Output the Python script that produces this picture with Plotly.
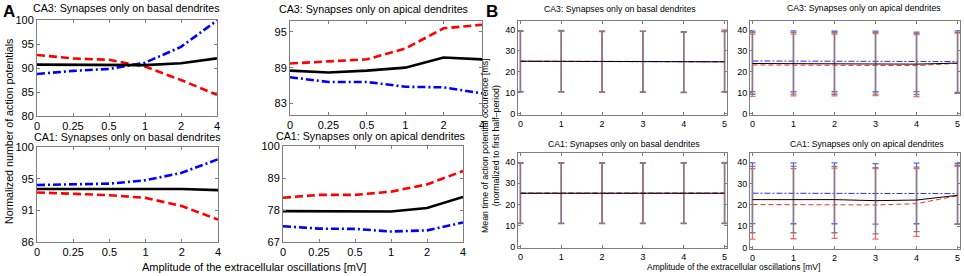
import plotly.graph_objects as go

W, H = 964, 276

# ---------------- Panel A data ----------------
amp_labels = ['0', '0.25', '0.5', '1', '2', '4']
amp_pos = [0, 1, 2, 3, 4, 5]

ca3_basal_solid = [90.7, 90.7, 90.7, 90.6, 91.0, 92.0]
ca3_basal_dash = [92.7, 92.0, 91.7, 90.3, 87.5, 84.4]
ca3_basal_dashdot = [88.75, 89.4, 89.8, 91.1, 94.4, 99.9]

ca3_apical_solid = [88.5, 88.2, 88.5, 89.0, 90.7, 90.4]
ca3_apical_dash = [89.7, 90.0, 90.4, 92.2, 95.6, 96.2]
ca3_apical_dashdot = [87.4, 86.6, 86.6, 85.8, 85.7, 84.7]

ca1_basal_solid = [93.8, 93.8, 93.8, 93.8, 93.8, 93.65]
ca1_basal_dash = [93.3, 93.1, 92.9, 92.5, 91.3, 89.3]
ca1_basal_dashdot = [94.4, 94.5, 94.6, 95.1, 96.2, 98.2]

ca1_apical_solid = [77.6, 77.5, 77.4, 77.5, 78.7, 82.5]
ca1_apical_dash = [82.2, 83.2, 83.2, 84.3, 86.8, 91.4]
ca1_apical_dashdot = [72.4, 71.6, 71.5, 70.6, 71.0, 73.7]

# ---------------- Panel B data ----------------
b_amp = [0, 1, 2, 3, 4, 5]

b_ca3_basal_solid_mean = [25.1, 25.0, 24.9, 24.8, 24.8, 24.8]
b_ca3_basal_solid_hi = [39.5, 39.6, 39.3, 39.3, 39.0, 39.3]
b_ca3_basal_solid_lo = [10.5, 10.5, 10.3, 10.3, 10.2, 10.5]
b_ca3_basal_dash_mean = [25.1, 25.1, 24.9, 24.8, 24.8, 24.9]
b_ca3_basal_dash_hi = [39.7, 39.8, 39.6, 39.5, 39.2, 40.0]
b_ca3_basal_dash_lo = [10.6, 10.6, 10.3, 10.4, 10.3, 10.3]
b_ca3_basal_dashdot_mean = [25.0, 25.0, 24.9, 24.8, 24.7, 24.8]
b_ca3_basal_dashdot_hi = [39.3, 39.5, 39.2, 39.3, 39.0, 39.2]
b_ca3_basal_dashdot_lo = [10.4, 10.5, 10.3, 10.2, 10.1, 10.6]

b_ca3_apical_solid_mean = [24.0, 24.0, 24.0, 24.0, 23.7, 24.2]
b_ca3_apical_solid_hi = [38.9, 38.9, 38.8, 38.9, 38.4, 38.9]
b_ca3_apical_solid_lo = [9.3, 9.4, 9.3, 9.4, 9.2, 9.9]
b_ca3_apical_dash_mean = [23.3, 23.2, 23.3, 23.2, 23.0, 24.1]
b_ca3_apical_dash_hi = [38.0, 38.0, 38.1, 38.3, 37.8, 38.5]
b_ca3_apical_dash_lo = [8.3, 8.5, 8.5, 8.7, 8.2, 9.7]
b_ca3_apical_dashdot_mean = [25.2, 25.2, 25.1, 25.1, 25.0, 24.9]
b_ca3_apical_dashdot_hi = [39.5, 39.6, 39.4, 39.5, 39.0, 39.6]
b_ca3_apical_dashdot_lo = [10.6, 10.5, 10.5, 10.5, 10.6, 10.2]

b_ca1_basal_solid_mean = [25.3, 25.3, 25.3, 25.3, 25.3, 25.3]
b_ca1_basal_solid_hi = [39.6, 39.6, 39.6, 39.6, 39.6, 39.6]
b_ca1_basal_solid_lo = [11.0, 11.0, 11.0, 11.0, 11.0, 11.0]
b_ca1_basal_dash_mean = [25.4, 25.4, 25.4, 25.4, 25.4, 25.4]
b_ca1_basal_dash_hi = [39.7, 39.7, 39.7, 39.7, 39.7, 39.8]
b_ca1_basal_dash_lo = [11.1, 11.1, 11.1, 11.1, 11.1, 11.1]
b_ca1_basal_dashdot_mean = [25.2, 25.2, 25.2, 25.2, 25.2, 25.2]
b_ca1_basal_dashdot_hi = [39.5, 39.5, 39.5, 39.5, 39.5, 39.5]
b_ca1_basal_dashdot_lo = [10.9, 10.9, 10.9, 10.9, 10.9, 10.9]

b_ca1_apical_solid_mean = [22.5, 22.5, 22.5, 22.0, 22.3, 24.5]
b_ca1_apical_solid_hi = [38.0, 38.0, 38.0, 37.5, 37.7, 38.5]
b_ca1_apical_solid_lo = [7.0, 7.0, 7.0, 6.5, 7.5, 11.0]
b_ca1_apical_dash_mean = [20.2, 20.2, 20.3, 20.0, 20.6, 24.3]
b_ca1_apical_dash_hi = [37.0, 37.0, 37.2, 37.0, 37.0, 38.0]
b_ca1_apical_dash_lo = [4.0, 4.2, 4.4, 4.0, 5.3, 11.0]
b_ca1_apical_dashdot_mean = [25.5, 25.5, 25.5, 25.4, 25.5, 25.3]
b_ca1_apical_dashdot_hi = [39.7, 39.7, 39.7, 39.3, 39.6, 39.4]
b_ca1_apical_dashdot_lo = [11.3, 11.2, 11.2, 11.0, 11.2, 11.0]

titles = {
    'ca3_basal': 'CA3: Synapses only on basal dendrites',
    'ca3_apical': 'CA3: Synapses only on apical dendrites',
    'ca1_basal': 'CA1: Synapses only on basal dendrites',
    'ca1_apical': 'CA1: Synapses only on apical dendrites',
}
xlabel = 'Amplitude of the extracellular oscillations [mV]'
ylabel_a = 'Normalized number of action potentials'
ylabel_b1 = 'Mean time of action potential occurence [ms]'
ylabel_b2 = '(normalized to first half\u2013period)'

FONT = 'Liberation Sans, Arial, sans-serif'


def dx(l, r):
    return [l / W, r / W]


def dy(t, b):
    return [1 - b / H, 1 - t / H]


def px(x):
    return x / W


def py(y):
    return 1 - y / H


fig = go.Figure()
layout = dict(
    width=W, height=H, margin=dict(l=0, r=0, t=0, b=0, pad=0, autoexpand=False),
    paper_bgcolor='white', plot_bgcolor='white', showlegend=False,
    font=dict(family=FONT, color='black'),
)

frame = dict(showline=True, linecolor='#7f7f7f', linewidth=1, mirror='ticks',
             ticks='inside', tickcolor='#7f7f7f', showgrid=False, zeroline=False,
             automargin=False)

# ---------- Panel A ----------
a_panels = [
    (ca3_basal_solid, ca3_basal_dash, ca3_basal_dashdot, (37, 217), (20, 116),
     [80, 100], [80, 85, 90, 95, 100], ['80', '85', '90', '95', '100']),
    (ca3_apical_solid, ca3_apical_dash, ca3_apical_dashdot, (290, 482), (21, 115),
     [81.06, 96.83], [83, 89, 95], ['83', '89', '95']),
    (ca1_basal_solid, ca1_basal_dash, ca1_basal_dashdot, (37, 218), (147, 242),
     [86, 100], [86, 86 + 14 / 3, 86 + 28 / 3, 100], ['86', '91', '95', '100']),
    (ca1_apical_solid, ca1_apical_dash, ca1_apical_dashdot, (283, 463), (146, 242),
     [67, 100], [67, 78, 89, 100], ['67', '78', '89', '100']),
]

ax = 0
for solid, dash, dashdot, xd, yd, yr, tv, tt in a_panels:
    ax += 1
    xs = '' if ax == 1 else str(ax)
    layout['xaxis' + xs] = dict(frame, domain=dx(*xd), anchor='y' + xs, range=[0, 5],
                                tickvals=amp_pos, ticktext=amp_labels, ticklen=3,
                                tickfont=dict(size=11, family=FONT))
    layout['yaxis' + xs] = dict(frame, domain=dy(*yd), anchor='x' + xs, range=yr,
                                tickvals=tv, ticktext=tt, ticklen=3,
                                tickfont=dict(size=11, family=FONT))
    for vals, col, dsh in [(dashdot, '#0000ff', '8px,3px,2px,3px'),
                           (dash, '#ff0000', '8px,4px'),
                           (solid, '#000000', 'solid')]:
        fig.add_trace(go.Scatter(x=amp_pos, y=vals, mode='lines',
                                 line=dict(color=col, width=2.6, dash=dsh),
                                 xaxis='x' + xs, yaxis='y' + xs))

# ---------- Panel B ----------
b_panels = [
    ((b_ca3_basal_solid_mean, b_ca3_basal_solid_hi, b_ca3_basal_solid_lo),
     (b_ca3_basal_dash_mean, b_ca3_basal_dash_hi, b_ca3_basal_dash_lo),
     (b_ca3_basal_dashdot_mean, b_ca3_basal_dashdot_hi, b_ca3_basal_dashdot_lo),
     (518, 727), (21, 115)),
    ((b_ca3_apical_solid_mean, b_ca3_apical_solid_hi, b_ca3_apical_solid_lo),
     (b_ca3_apical_dash_mean, b_ca3_apical_dash_hi, b_ca3_apical_dash_lo),
     (b_ca3_apical_dashdot_mean, b_ca3_apical_dashdot_hi, b_ca3_apical_dashdot_lo),
     (750, 960), (21, 115)),
    ((b_ca1_basal_solid_mean, b_ca1_basal_solid_hi, b_ca1_basal_solid_lo),
     (b_ca1_basal_dash_mean, b_ca1_basal_dash_hi, b_ca1_basal_dash_lo),
     (b_ca1_basal_dashdot_mean, b_ca1_basal_dashdot_hi, b_ca1_basal_dashdot_lo),
     (518, 727), (153, 248)),
    ((b_ca1_apical_solid_mean, b_ca1_apical_solid_hi, b_ca1_apical_solid_lo),
     (b_ca1_apical_dash_mean, b_ca1_apical_dash_hi, b_ca1_apical_dash_lo),
     (b_ca1_apical_dashdot_mean, b_ca1_apical_dashdot_hi, b_ca1_apical_dashdot_lo),
     (750, 960), (153, 249)),
]

for solid, dash, dashdot, xd, yd in b_panels:
    ax += 1
    xs = str(ax)
    layout['xaxis' + xs] = dict(frame, domain=dx(*xd), anchor='y' + xs, range=[-0.06, 5.06],
                                tickvals=b_amp, ticklen=3,
                                tickfont=dict(size=9, family=FONT))
    layout['yaxis' + xs] = dict(frame, domain=dy(*yd), anchor='x' + xs, range=[-0.6, 44.3],
                                tickvals=[0, 10, 20, 30, 40], ticklen=3,
                                tickfont=dict(size=9, family=FONT))
    for (mean, hi, lo), col, ecol, dsh in [
            (dashdot, 'rgba(0,0,255,0.85)', 'rgba(60,60,255,0.8)', '6px,2px,2px,2px'),
            (dash, 'rgba(255,0,0,0.85)', 'rgba(255,60,60,0.8)', '5px,3px'),
            (solid, '#000000', '#808080', 'solid')]:
        plus = [h - m for h, m in zip(hi, mean)]
        minus = [m - l for m, l in zip(mean, lo)]
        fig.add_trace(go.Scatter(
            x=b_amp, y=mean, mode='lines',
            line=dict(color=col, width=1, dash=dsh),
            error_y=dict(type='data', symmetric=False, array=plus, arrayminus=minus,
                         color=ecol, thickness=1.3, width=3),
            xaxis='x' + xs, yaxis='y' + xs))

fig.update_layout(**layout)

ann = []
for text, x, y, size in [
        (titles['ca3_basal'], 126, 7.5, 10.7), (titles['ca3_apical'], 373, 9, 10.7),
        (titles['ca1_basal'], 127, 137, 10.7), (titles['ca1_apical'], 370, 136, 10.7),
        (titles['ca3_basal'], 620, 9, 8.7), (titles['ca3_apical'], 864, 8, 8.7),
        (titles['ca1_basal'], 624, 143.5, 8.7), (titles['ca1_apical'], 867, 143.5, 8.7)]:
    ann.append(dict(text=text, x=px(x), y=py(y), xref='paper', yref='paper',
                    xanchor='center', yanchor='middle', showarrow=False,
                    font=dict(size=size, family=FONT, color='black')))
ann.append(dict(text='<b>A</b>', x=px(1), y=py(0), xref='paper', yref='paper',
                xanchor='left', yanchor='top', showarrow=False,
                font=dict(size=17, family=FONT, color='black')))
ann.append(dict(text='<b>B</b>', x=px(484), y=py(0), xref='paper', yref='paper',
                xanchor='left', yanchor='top', showarrow=False,
                font=dict(size=17, family=FONT, color='black')))
ann.append(dict(text=xlabel, x=px(254), y=py(267), xref='paper', yref='paper',
                xanchor='center', yanchor='middle', showarrow=False,
                font=dict(size=11, family=FONT, color='black')))
ann.append(dict(text=xlabel, x=px(733), y=py(267), xref='paper', yref='paper',
                xanchor='center', yanchor='middle', showarrow=False,
                font=dict(size=8.5, family=FONT, color='black')))
ann.append(dict(text=ylabel_a, x=px(9), y=py(132), xref='paper', yref='paper',
                xanchor='center', yanchor='middle', showarrow=False, textangle=-90,
                font=dict(size=10.7, family=FONT, color='black')))
ann.append(dict(text=ylabel_b1 + '<br>' + ylabel_b2, x=px(490), y=py(146), xref='paper',
                yref='paper', xanchor='center', yanchor='middle', showarrow=False,
                textangle=-90,
                font=dict(size=8.8, family=FONT, color='black')))
fig.update_layout(annotations=ann)

fig.write_html('out.html', config={'displayModeBar': False},
               post_script="document.body.style.margin='0px';"
                           "document.body.style.padding='0px';"
                           "document.body.style.overflow='hidden';")
